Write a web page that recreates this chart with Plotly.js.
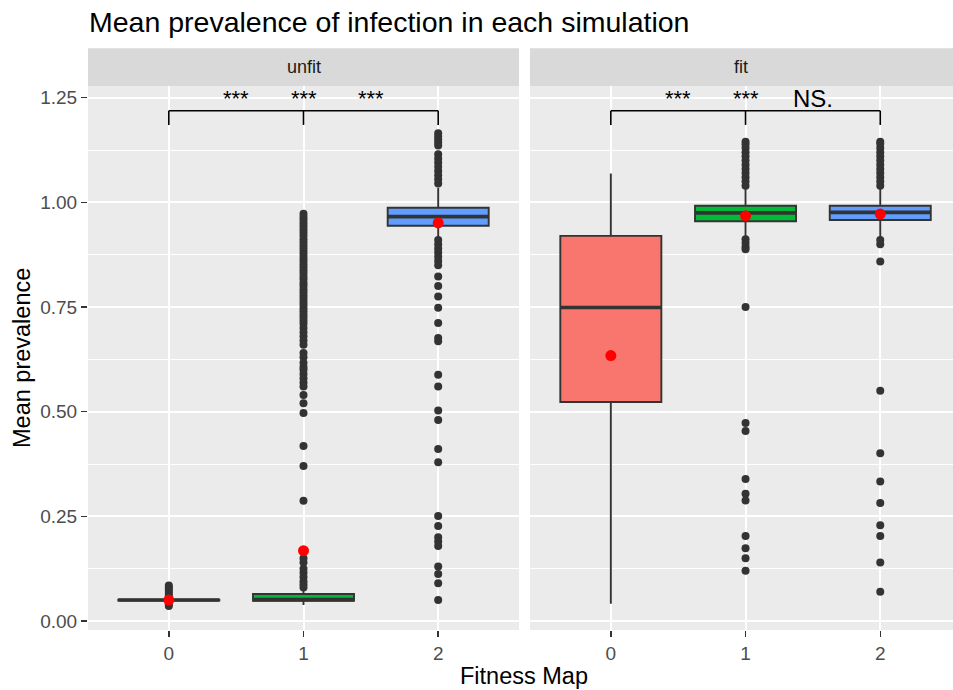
<!DOCTYPE html>
<html>
<head>
<meta charset="utf-8">
<script src="https://cdn.plot.ly/plotly-3.0.1.min.js"></script>
<style>html,body{margin:0;padding:0;background:#fff;}#chart{width:953px;height:690px;}</style>
</head>
<body>
<div id="chart"></div>
<script>
// ---------- data ----------
const categories = [0, 1, 2];
const catLabels = ['0', '1', '2'];
const facets = ['unfit', 'fit'];
const boxColors = ['#F8766D', '#00BA38', '#619CFF'];

// unfit panel box statistics (per category 0,1,2)
const unfitQ1 = [0.049, 0.048, 0.944];
const unfitMedian = [0.050, 0.051, 0.966];
const unfitQ3 = [0.051, 0.0645, 0.987];
const unfitLower = [0.045, 0.038, 0.918];
const unfitUpper = [0.055, 0.074, 1.035];
const unfitMean = [0.050, 0.168, 0.951];

// fit panel box statistics
const fitQ1 = [0.523, 0.955, 0.958];
const fitMedian = [0.749, 0.975, 0.976];
const fitQ3 = [0.920, 0.992, 0.992];
const fitLower = [0.041, 0.918, 0.918];
const fitUpper = [1.069, 1.036, 1.034];
const fitMean = [0.634, 0.968, 0.972];

// outliers
const unfit0Out = [0.085, 0.080, 0.075, 0.070, 0.065, 0.060, 0.040, 0.036];
const unfit1Out = [0.973, 0.965, 0.958, 0.950, 0.943, 0.935, 0.928, 0.920, 0.912, 0.905,
  0.897, 0.890, 0.882, 0.875, 0.867, 0.860, 0.852, 0.845, 0.837, 0.830, 0.822, 0.815,
  0.807, 0.800, 0.792, 0.785, 0.777, 0.770, 0.762, 0.755, 0.747, 0.740, 0.732, 0.725,
  0.717, 0.710, 0.700, 0.690, 0.680, 0.670, 0.660, 0.640, 0.630, 0.617, 0.607, 0.600,
  0.590, 0.580, 0.570, 0.560, 0.540, 0.520, 0.497, 0.418, 0.370, 0.287, 0.150, 0.140,
  0.125, 0.115, 0.105, 0.095, 0.088, 0.080];
const unfit2Out = [1.165, 1.158, 1.150, 1.143, 1.136, 1.115, 1.105, 1.095, 1.085, 1.075,
  1.065, 1.055, 1.045, 0.910, 0.900, 0.890, 0.880, 0.870, 0.860, 0.850, 0.823, 0.800,
  0.775, 0.748, 0.712, 0.676, 0.668, 0.588, 0.560, 0.503, 0.480, 0.411, 0.379, 0.251,
  0.227, 0.200, 0.190, 0.179, 0.130, 0.112, 0.090, 0.050];
const fit0Out = [];
const fit1Out = [1.145, 1.138, 1.130, 1.120, 1.110, 1.100, 1.090, 1.080, 1.070, 1.060,
  1.050, 1.040, 0.912, 0.903, 0.894, 0.888, 0.750, 0.473, 0.454, 0.339, 0.304, 0.288,
  0.203, 0.174, 0.150, 0.120];
const fit2Out = [1.145, 1.140, 1.130, 1.120, 1.110, 1.100, 1.090, 1.080, 1.070, 1.060,
  1.050, 1.040, 0.910, 0.900, 0.859, 0.550, 0.401, 0.333, 0.282, 0.229, 0.203, 0.140,
  0.070];

// significance labels
const sigPos = [0.5, 1.0, 1.5];
const unfitSig = ['***', '***', '***'];
const fitSig = ['***', '***', 'NS.'];
const bracketY = 1.219;
const bracketTip = 1.185;
const sigLabelY = 1.247;

// ---------- build ----------
const BOX_W = 0.75;
const FONT = 'Liberation Sans, Arial, sans-serif';
const panels = [
  {name: 'unfit', xa: 'x', ya: 'y', q1: unfitQ1, med: unfitMedian, q3: unfitQ3, lo: unfitLower, hi: unfitUpper, mean: unfitMean, out: [unfit0Out, unfit1Out, unfit2Out], sig: unfitSig},
  {name: 'fit', xa: 'x2', ya: 'y2', q1: fitQ1, med: fitMedian, q3: fitQ3, lo: fitLower, hi: fitUpper, mean: fitMean, out: [fit0Out, fit1Out, fit2Out], sig: fitSig}
];

const traces = [];
const shapes = [];
const annotations = [];

const dom1 = [0, 431 / 865];
const dom2 = [442 / 865, 1];
const doms = [dom1, dom2];
const stripH = 37.7 / 544;

panels.forEach((p, pi) => {
  categories.forEach((c, i) => {
    traces.push({
      type: 'box', x: [c], q1: [p.q1[i]], median: [p.med[i]], q3: [p.q3[i]],
      lowerfence: [p.lo[i]], upperfence: [p.hi[i]], boxpoints: false,
      width: BOX_W, whiskerwidth: 0, fillcolor: boxColors[i],
      line: {color: '#333333', width: 1.9},
      xaxis: p.xa, yaxis: p.ya, hoverinfo: 'skip', showlegend: false
    });
    // thicker median line (ggplot fatten)
    traces.push({
      type: 'scatter', mode: 'lines', x: [c - BOX_W / 2, c + BOX_W / 2], y: [p.med[i], p.med[i]],
      line: {color: '#333333', width: 3.6}, xaxis: p.xa, yaxis: p.ya, hoverinfo: 'skip', showlegend: false
    });
    if (p.out[i].length) {
      traces.push({
        type: 'scatter', mode: 'markers', x: p.out[i].map(() => c), y: p.out[i],
        marker: {color: '#333333', size: 8}, xaxis: p.xa, yaxis: p.ya, hoverinfo: 'skip', showlegend: false
      });
    }
  });
  traces.push({
    type: 'scatter', mode: 'markers', x: categories, y: p.mean,
    marker: {color: '#FF0000', size: 11}, xaxis: p.xa, yaxis: p.ya, hoverinfo: 'skip', showlegend: false
  });

  // bracket
  shapes.push({type: 'line', xref: p.xa, yref: p.ya, x0: categories[0], x1: categories[2], y0: bracketY, y1: bracketY, line: {color: '#000000', width: 1.6}});
  categories.forEach(c => {
    shapes.push({type: 'line', xref: p.xa, yref: p.ya, x0: c, x1: c, y0: bracketY, y1: bracketTip, line: {color: '#000000', width: 1.6}});
  });
  sigPos.forEach((sx, k) => {
    annotations.push({xref: p.xa, yref: p.ya, x: sx, y: sigLabelY, text: p.sig[k], showarrow: false,
      xanchor: 'center', yanchor: 'middle', font: {family: FONT, size: p.sig[k] === 'NS.' ? 24 : 22, color: '#000000'}});
  });

  // strip
  shapes.push({type: 'rect', xref: 'paper', yref: 'paper', x0: doms[pi][0], x1: doms[pi][1], y0: 1, y1: 1 + stripH, fillcolor: '#D9D9D9', line: {width: 0}, layer: 'below'});
  annotations.push({xref: 'paper', yref: 'paper', x: (doms[pi][0] + doms[pi][1]) / 2, y: 1 + stripH / 2, text: p.name, showarrow: false,
    xanchor: 'center', yanchor: 'middle', font: {family: FONT, size: 18, color: '#1A1A1A'}});
});

// axis titles
annotations.push({xref: 'paper', yref: 'paper', x: (524 - 88) / 865, y: -46 / 544, text: 'Fitness Map', showarrow: false,
  xanchor: 'center', yanchor: 'middle', font: {family: FONT, size: 23.5, color: '#000000'}});
annotations.push({xref: 'paper', yref: 'paper', x: -66 / 865, y: 0.5, text: 'Mean prevalence', showarrow: false, textangle: -90,
  xanchor: 'center', yanchor: 'middle', font: {family: FONT, size: 23.5, color: '#000000'}});

const yrange = [-0.0215, 1.278];
const xCommon = {
  tickmode: 'array', tickvals: categories, ticktext: catLabels,
  ticks: 'outside', ticklen: 6, tickwidth: 1.5, tickcolor: '#333333',
  showgrid: true, gridcolor: '#FFFFFF', gridwidth: 2, zeroline: false, showline: false,
  tickfont: {family: FONT, size: 19, color: '#4D4D4D'}, fixedrange: true
};
const yCommon = {
  range: yrange, tickmode: 'array', tickvals: [0, 0.25, 0.5, 0.75, 1.0, 1.25],
  ticktext: ['0.00', '0.25', '0.50', '0.75', '1.00', '1.25'],
  showgrid: true, gridcolor: '#FFFFFF', gridwidth: 2, zeroline: false, showline: false,
  minor: {tickmode: 'array', tickvals: [0.125, 0.375, 0.625, 0.875, 1.125], showgrid: true, gridcolor: '#FFFFFF', gridwidth: 1, ticks: ''},
  tickfont: {family: FONT, size: 19, color: '#4D4D4D'}, fixedrange: true
};

const layout = {
  width: 953, height: 690,
  margin: {l: 88, r: 0, t: 86, b: 60, pad: 0},
  paper_bgcolor: '#FFFFFF', plot_bgcolor: '#EBEBEB',
  showlegend: false,
  title: {text: 'Mean prevalence of infection in each simulation', x: 89 / 953, xanchor: 'left', xref: 'container',
    y: 1 - 22 / 690, yanchor: 'middle', yref: 'container', font: {family: FONT, size: 28.5, color: '#000000'}},
  xaxis: Object.assign({}, xCommon, {domain: dom1, range: [-0.6, 2.6], anchor: 'y'}),
  xaxis2: Object.assign({}, xCommon, {domain: dom2, range: [-0.6, 2.54], anchor: 'y2'}),
  yaxis: Object.assign({}, yCommon, {domain: [0, 1], anchor: 'x', ticks: 'outside', ticklen: 6, tickwidth: 1.5, tickcolor: '#333333'}),
  yaxis2: Object.assign({}, yCommon, {domain: [0, 1], anchor: 'x2', matches: 'y', showticklabels: false, ticks: ''}),
  shapes: shapes,
  annotations: annotations
};

Plotly.newPlot('chart', traces, layout, {displayModeBar: false, staticPlot: true});
</script>
</body>
</html>
